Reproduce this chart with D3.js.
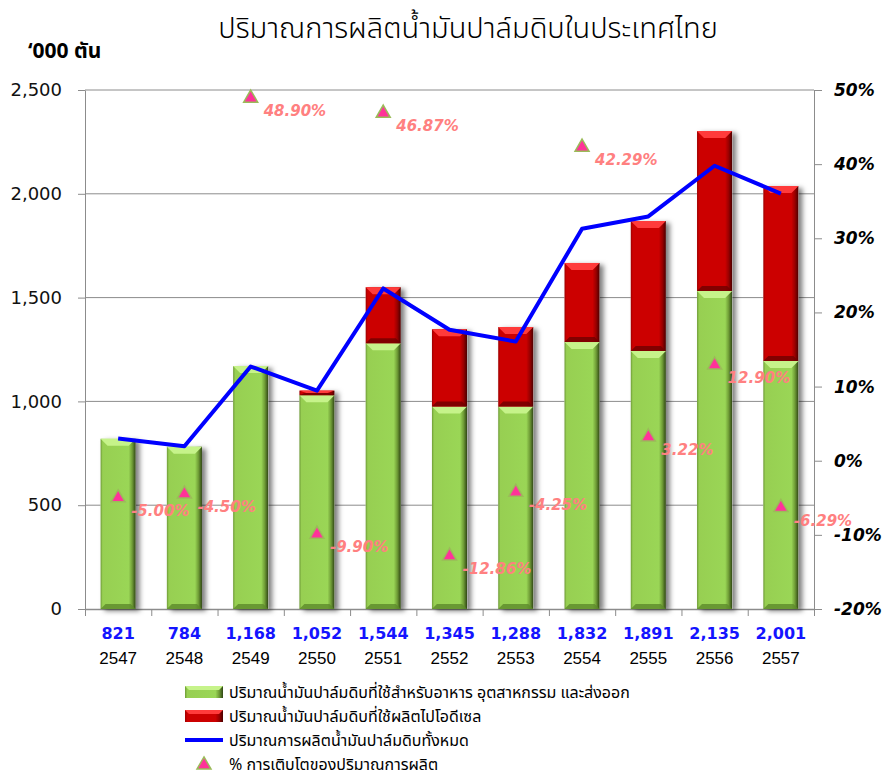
<!DOCTYPE html>
<html>
<head>
<meta charset="utf-8">
<script src="https://cdn.jsdelivr.net/npm/d3@7"></script>
<style>
  body { margin: 0; background: #fff; }
  svg { display: block; }
</style>
</head>
<body>
<div id="chart"></div>
<script>
// data ('000 tonnes)
const years = ["2547", "2548", "2549", "2550", "2551", "2552", "2553", "2554", "2555", "2556", "2557"];
const totals = [821, 784, 1168, 1052, 1544, 1345, 1288, 1832, 1891, 2135, 2001];
const foodUse = [820, 782, 1170, 1030, 1280, 975, 975, 1286, 1243, 1532, 1195];
const biodieselUse = [0, 0, 0, 22, 270, 373, 383, 381, 626, 770, 842];
const growthPct = [-5.00, -4.50, 48.90, -9.90, 46.87, -12.86, -4.25, 42.29, 3.22, 12.90, -6.29];
const leftTicks = [0, 500, 1000, 1500, 2000, 2500];
const rightTicks = [-20, -10, 0, 10, 20, 30, 40, 50];
const legendLabels = [
  "ปริมาณน้ำมันปาล์มดิบที่ใช้สำหรับอาหาร อุตสาหกรรม และส่งออก",
  "ปริมาณน้ำมันปาล์มดิบที่ใช้ผลิตไปโอดีเซล",
  "ปริมาณการผลิตน้ำมันปาล์มดิบทั้งหมด",
  "% การเติบโตของปริมาณการผลิต"
];

const W = 885, H = 780;
const margin = { top: 90, right: 71, bottom: 171, left: 85 };
const width = W - margin.left - margin.right;
const height = H - margin.top - margin.bottom;

const thaiFont = "'Noto Sans Thai', 'Noto Sans', Tahoma, sans-serif";

const svg = d3.select("#chart")
  .append("svg")
  .attr("width", W)
  .attr("height", H);

const defs = svg.append("defs");

// shadow behind the bars
const shadow = defs.append("filter").attr("id", "shadow")
  .attr("x", "-20%").attr("y", "-10%").attr("width", "160%").attr("height", "120%");
shadow.append("feDropShadow")
  .attr("dx", 4).attr("dy", 2).attr("stdDeviation", 2.5)
  .attr("flood-color", "#000").attr("flood-opacity", 0.5);

function hGradient(id, stops) {
  const g = defs.append("linearGradient").attr("id", id)
    .attr("x1", "0%").attr("x2", "100%").attr("y1", "0%").attr("y2", "0%");
  stops.forEach(s => g.append("stop").attr("offset", s[0]).attr("stop-color", s[1]));
}
hGradient("gGreen", [["0%", "#6e9a37"], ["6%", "#97cf52"], ["80%", "#9ad656"], ["90%", "#6f9c36"], ["100%", "#2f4514"]]);
hGradient("gRed", [["0%", "#9c0000"], ["6%", "#cc0000"], ["80%", "#cc0000"], ["90%", "#990000"], ["100%", "#4a0000"]]);

const g = svg.append("g")
  .attr("transform", `translate(${margin.left},${margin.top})`);

// scales
const x = d3.scaleBand()
  .domain(years)
  .range([0, width])
  .paddingInner(0.47)
  .paddingOuter(0.235);
const xEdge = d3.scaleLinear().domain([0, years.length]).range([0, width]);
const y = d3.scaleLinear().domain([0, 2500]).range([height, 0]);
const yPct = d3.scaleLinear().domain([-20, 50]).range([height, 0]);

// gridlines
g.append("g")
  .selectAll("line")
  .data(leftTicks.filter(d => d > 0))
  .enter().append("line")
  .attr("x1", 0).attr("x2", width)
  .attr("y1", d => y(d)).attr("y2", d => y(d))
  .attr("stroke", "#8c8c8c").attr("stroke-width", 1);

// left axis
const yAxis = g.append("g")
  .call(d3.axisLeft(y).tickValues(leftTicks).tickFormat(d3.format(",")).tickSize(7).tickSizeOuter(0));
yAxis.select(".domain").attr("stroke", "#8c8c8c");
yAxis.selectAll(".tick line").attr("stroke", "#8c8c8c");
yAxis.selectAll("text")
  .attr("x", -23)
  .attr("font-family", "'DejaVu Sans', Verdana, sans-serif")
  .attr("font-size", 18)
  .attr("fill", "#111");

// right axis
const rAxis = g.append("g")
  .attr("transform", `translate(${width},0)`)
  .call(d3.axisRight(yPct).tickValues(rightTicks).tickFormat(d => d + "%").tickSize(8).tickSizeOuter(0));
rAxis.select(".domain").attr("stroke", "#8c8c8c");
rAxis.selectAll(".tick line").attr("stroke", "#8c8c8c");
rAxis.selectAll("text")
  .attr("x", 20)
  .attr("text-anchor", "start")
  .attr("font-family", "'DejaVu Sans', Verdana, sans-serif")
  .attr("font-size", 17)
  .attr("font-weight", "bold")
  .attr("font-style", "italic")
  .attr("fill", "#000");

// bottom axis (ticks on category edges)
const xAxis = g.append("g")
  .attr("transform", `translate(0,${height})`)
  .call(d3.axisBottom(xEdge).tickValues(d3.range(years.length + 1)).tickFormat("").tickSize(7).tickSizeOuter(0));
xAxis.select(".domain").attr("stroke", "#8c8c8c").attr("stroke-width", 1.5);
xAxis.selectAll(".tick line").attr("stroke", "#8c8c8c");

// category labels: totals (blue) and years
g.append("g").selectAll("text")
  .data(years)
  .enter().append("text")
  .attr("x", d => x(d) + x.bandwidth() / 2)
  .attr("y", height + 24)
  .attr("dy", "0.35em")
  .attr("text-anchor", "middle")
  .attr("font-family", "'DejaVu Sans', Verdana, sans-serif")
  .attr("font-size", 16)
  .attr("font-weight", "bold")
  .attr("fill", "#1414ff")
  .text((d, i) => d3.format(",")(totals[i]));

g.append("g").selectAll("text")
  .data(years)
  .enter().append("text")
  .attr("x", d => x(d) + x.bandwidth() / 2)
  .attr("y", height + 49)
  .attr("dy", "0.35em")
  .attr("text-anchor", "middle")
  .attr("font-family", "'Liberation Sans', Arial, sans-serif")
  .attr("font-size", 17)
  .attr("fill", "#000")
  .text(d => d);

// stacked bars
const segments = [];
years.forEach((yr, i) => {
  segments.push({ year: yr, y0: 0, y1: foodUse[i], kind: "green" });
  if (biodieselUse[i] > 0) segments.push({ year: yr, y0: foodUse[i], y1: foodUse[i] + biodieselUse[i], kind: "red" });
});

const bw = x.bandwidth();
const barG = g.append("g");
barG.selectAll("rect.shadow")
  .data(years)
  .enter().append("rect")
  .attr("class", "shadow")
  .attr("x", d => x(d))
  .attr("y", (d, i) => y(foodUse[i] + biodieselUse[i]))
  .attr("width", bw)
  .attr("height", (d, i) => height - y(foodUse[i] + biodieselUse[i]))
  .attr("fill", "#fff")
  .attr("filter", "url(#shadow)");

const seg = barG.selectAll("g.seg")
  .data(segments)
  .enter().append("g")
  .attr("class", "seg");
seg.append("rect")
  .attr("x", d => x(d.year))
  .attr("y", d => y(d.y1))
  .attr("width", bw)
  .attr("height", d => y(d.y0) - y(d.y1))
  .attr("fill", d => d.kind === "green" ? "url(#gGreen)" : "url(#gRed)");
// top bevel
seg.append("path")
  .attr("d", d => {
    const x0 = x(d.year), t = y(d.y1);
    const b = Math.min(7, (y(d.y0) - y(d.y1)) / 2);
    return `M${x0},${t}L${x0 + bw},${t}L${x0 + bw - 7},${t + b}L${x0 + 7},${t + b}Z`;
  })
  .attr("fill", d => d.kind === "green" ? "#c6f38a" : "#ff3b3b");
// bottom bevel
seg.append("path")
  .attr("d", d => {
    const x0 = x(d.year), bt = y(d.y0);
    const b = Math.min(5, (y(d.y0) - y(d.y1)) / 2);
    return `M${x0},${bt}L${x0 + bw},${bt}L${x0 + bw - 5},${bt - b}L${x0 + 5},${bt - b}Z`;
  })
  .attr("fill", d => d.kind === "green" ? "#5d8a2a" : "#6e0000")
  .attr("opacity", 0.8);

// total line
const line = d3.line()
  .x((d, i) => x(years[i]) + bw / 2)
  .y(d => y(d));
g.append("path")
  .datum(totals)
  .attr("d", line)
  .attr("fill", "none")
  .attr("stroke", "#0000ff")
  .attr("stroke-width", 4)
  .attr("stroke-linejoin", "round");

// growth markers
const tri = d3.symbol().type(d3.symbolTriangle).size(85);
g.append("g").selectAll("path")
  .data(growthPct)
  .enter().append("path")
  .attr("d", tri)
  .attr("transform", (d, i) => `translate(${x(years[i]) + bw / 2},${yPct(d)})`)
  .attr("fill", "#ff3399")
  .attr("stroke", "#9bbb59")
  .attr("stroke-width", 1.5);

g.append("g").selectAll("text")
  .data(growthPct)
  .enter().append("text")
  .attr("x", (d, i) => x(years[i]) + bw / 2 + 13)
  .attr("y", d => yPct(d) + 13)
  .attr("dy", "0.35em")
  .attr("font-family", "'DejaVu Sans', Verdana, sans-serif")
  .attr("font-size", 15)
  .attr("font-weight", "bold")
  .attr("font-style", "italic")
  .attr("fill", "#ff8080")
  .text(d => d.toFixed(2) + "%");

// title and unit
svg.append("text")
  .attr("x", 468)
  .attr("y", 28)
  .attr("dy", "0.35em")
  .attr("text-anchor", "middle")
  .attr("font-family", thaiFont)
  .attr("font-size", 29)
  .attr("font-weight", 300)
  .attr("fill", "#000")
  .text("ปริมาณการผลิตน้ำมันปาล์มดิบในประเทศไทย");

svg.append("text")
  .attr("x", 28)
  .attr("y", 51)
  .attr("dy", "0.35em")
  .attr("font-family", thaiFont)
  .attr("font-size", 21)
  .attr("font-weight", "bold")
  .attr("fill", "#000")
  .text("‘000 ตัน");

// legend
const legend = svg.append("g").attr("transform", "translate(185,0)");
const rowY = [692, 716, 740, 764];
legendLabels.forEach((lab, i) => {
  const row = legend.append("g").attr("transform", `translate(0,${rowY[i]})`);
  if (i < 2) {
    row.append("rect")
      .attr("x", 0).attr("y", -6).attr("width", 38).attr("height", 12)
      .attr("fill", i === 0 ? "url(#gGreen)" : "url(#gRed)");
    row.append("path")
      .attr("d", "M0,-6L38,-6L34,-2L4,-2Z")
      .attr("fill", i === 0 ? "#c6f38a" : "#ff3b3b");
  } else if (i === 2) {
    row.append("line")
      .attr("x1", 0).attr("x2", 38).attr("y1", 0).attr("y2", 0)
      .attr("stroke", "#0000ff").attr("stroke-width", 4);
  } else {
    row.append("path")
      .attr("d", tri)
      .attr("transform", "translate(19,1)")
      .attr("fill", "#ff3399")
      .attr("stroke", "#9bbb59")
      .attr("stroke-width", 1.5);
  }
  row.append("text")
    .attr("x", 44)
    .attr("dy", "0.35em")
    .attr("font-family", thaiFont)
    .attr("font-size", 16)
    .attr("fill", "#000")
    .text(lab);
});
</script>
</body>
</html>
